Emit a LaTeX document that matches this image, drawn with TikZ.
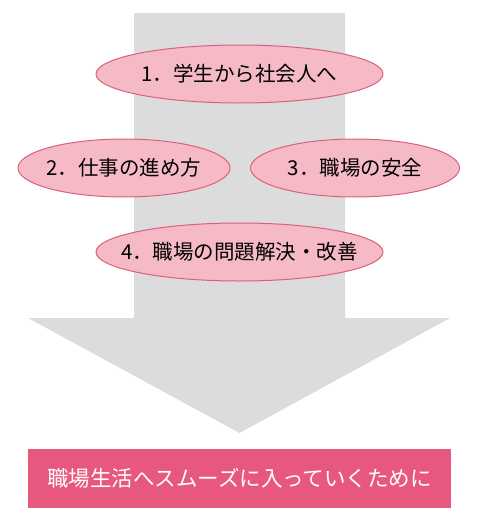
\documentclass[tikz,border=0pt]{standalone}
\usepackage{fontspec}
\newfontfamily\jpfont{Noto Sans CJK JP}
\usetikzlibrary{shapes.geometric}
\definecolor{shaftgray}{HTML}{DCDCDC}
\definecolor{petalpink}{HTML}{F6B9C6}
\definecolor{petalline}{HTML}{D9617F}
\definecolor{goalpink}{HTML}{E8587E}
\newcommand\nhan[1]{\makebox[0pt]{#1}}
\tikzset{
	topic/.style={ellipse, draw=petalline, line width=1pt, fill=petalpink, inner sep=0pt, minimum height=58pt, font=\jpfont\fontsize{20.5}{24}\selectfont},
	goal/.style={rectangle, fill=goalpink, text=white, inner sep=0pt, minimum width=423pt, minimum height=59pt, font=\jpfont\fontsize{21.5}{25}\selectfont}
}
\begin{document}
\begin{tikzpicture}[x=1pt, y=-1pt, line join=round]
	\useasboundingbox (0,0) rectangle (478,522);
	% Mũi tên
	\fill[shaftgray] (134,13)--(345,13)--(345,318)--(450,318)--(239.5,433)--(28,318)--(134,318)--cycle;
	\node[topic, minimum width=287pt] (hoc) at (239.5,74) {\nhan{1．学生から社会人へ}};
	\node[topic, minimum width=212pt] (viec) at (124,168) {\nhan{2．仕事の進め方}};
	\node[topic, minimum width=209pt] (antoan) at (355,168) {\nhan{3．職場の安全}};
	\node[topic, minimum width=287pt] (caitien) at (239.5,252) {\nhan{4．職場の問題解決・改善}};
	\node[goal] (muctieu) at (239.5,478.5) {職場生活へスムーズに入っていくために};
\end{tikzpicture}
\end{document}
